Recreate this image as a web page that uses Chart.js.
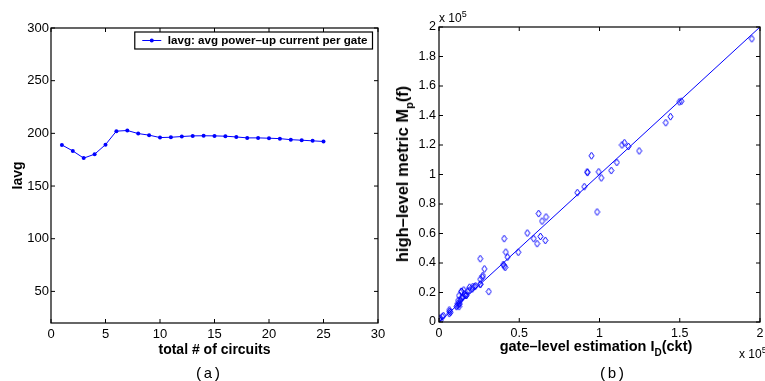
<!DOCTYPE html>
<html>
<head>
<meta charset="utf-8">
<script src="https://cdn.jsdelivr.net/npm/chart.js@4"></script>
<style>
  html, body { margin:0; padding:0; background:#fff; }
  #wrap { position:relative; width:765px; height:381px; overflow:hidden; font-family:"Liberation Sans", Arial, sans-serif; color:#000; }
  #wrap canvas { position:absolute; top:0; }
  .lbl { position:absolute; white-space:nowrap; transform:translate(-50%,-50%); }
  .cap { font-family:"Liberation Mono", "Courier New", monospace; font-size:15px; }
  .ttl { font-weight:bold; font-size:14.5px; }
  .ttl sub { font-size:10px; vertical-align:-5px; }
  .ttl.big { font-size:16.5px; }
  .ttl.big sub { font-size:11px; }
  .exp { position:absolute; white-space:nowrap; font-size:12px; }
  .exp sup { font-size:9px; vertical-align:5px; }
</style>
</head>
<body>
<div id="wrap">
  <canvas id="chartA" width="390" height="381" style="left:0"></canvas>
  <canvas id="chartB" width="385" height="381" style="left:380px"></canvas>
  <div class="lbl cap" style="left:208px;top:374px">(a)</div>
  <div class="lbl cap" style="left:612px;top:374px">(b)</div>
  <div class="lbl ttl big" style="left:404px;top:174px;transform:translate(-50%,-50%) rotate(-90deg)">high–level metric M<sub>p</sub>(f)</div>
  <div class="lbl ttl" style="left:596px;top:348px">gate–level estimation I<sub>D</sub>(ckt)</div>
  <div class="exp" style="left:439px;top:9px">x 10<sup>5</sup></div>
  <div class="exp" style="left:739px;top:345px">x 10<sup>5</sup></div>
</div>
<script>
/* ── (a) data ── */
const circuits = [1,2,3,4,5,6,7,8,9,10,11,12,13,14,15,16,17,18,19,20,21,22,23,24,25];
const iavg = [189,183.3,176.5,180.2,189.3,202.1,202.7,199.8,198.3,196,196.3,197,197.6,197.7,197.6,197.3,196.6,195.7,195.7,195.4,195,194,193.5,192.9,192.3];
const xTicksA = [0,5,10,15,20,25,30];
const yTicksA = [50,100,150,200,250,300];

/* ── (b) data (units of 10^5) ── */
const gateX = [0.002,0.01,0.02,0.027,0.006,0.064,0.072,0.064,0.066,0.109,0.125,0.113,0.125,0.118,0.128,
  0.133,0.119,0.139,0.15,0.145,0.16,0.125,0.166,0.171,0.139,0.154,0.14,0.178,0.187,0.19,0.207,0.222,0.211,0.228,
  0.257,0.258,0.257,0.27,0.273,0.283,0.257,0.31,0.406,0.416,0.406,0.412,0.4,0.427,0.494,
  0.55,0.59,0.611,0.632,0.662,0.621,0.642,0.667,0.862,0.905,0.985,
  0.923,0.925,0.95,0.995,1.011,1.073,1.108,1.14,1.155,1.18,1.247,1.413,1.442,1.497,1.51,1.949];
const metricY = [0.02,0.01,0.036,0.043,0.027,0.082,0.066,0.057,0.072,0.104,0.118,0.111,0.104,0.127,0.127,
  0.145,0.145,0.163,0.172,0.167,0.19,0.179,0.18,0.18,0.208,0.217,0.208,0.21,0.213,0.236,0.224,0.24,0.24,0.245,
  0.254,0.258,0.29,0.304,0.315,0.36,0.429,0.206,0.565,0.474,0.38,0.37,0.39,0.44,0.473,
  0.603,0.565,0.531,0.58,0.553,0.735,0.684,0.712,0.877,0.917,0.746,
  1.018,1.013,1.127,1.018,0.977,1.027,1.082,1.2,1.215,1.19,1.16,1.351,1.392,1.492,1.497,1.92];
const fitX = [0,2];
const fitY = [0,2];
const xTicksB = [0,0.5,1,1.5,2];
const yTicksB = [0,0.2,0.4,0.6,0.8,1,1.2,1.4,1.6,1.8,2];

const BLUE = '#0000ff';
const tickFont = size => ({ family: '"Liberation Sans", Arial, sans-serif', size });

/* ── box + inward ticks on all four sides ── */
const boxTicks = {
  id: 'boxTicks',
  afterDraw(chart){
    const { ctx, chartArea: a, scales: { x, y } } = chart;
    const L = 4;
    ctx.save();
    ctx.strokeStyle = '#000';
    ctx.lineWidth = 1.2;
    ctx.strokeRect(a.left, a.top, a.right - a.left, a.bottom - a.top);
    ctx.lineWidth = 1;
    ctx.beginPath();
    x.ticks.forEach(t => {
      const p = x.getPixelForValue(t.value);
      ctx.moveTo(p, a.bottom); ctx.lineTo(p, a.bottom - L);
      ctx.moveTo(p, a.top);    ctx.lineTo(p, a.top + L);
    });
    y.ticks.forEach(t => {
      const p = y.getPixelForValue(t.value);
      ctx.moveTo(a.left, p);  ctx.lineTo(a.left + L, p);
      ctx.moveTo(a.right, p); ctx.lineTo(a.right - L, p);
    });
    ctx.stroke();
    ctx.restore();
  }
};

/* ── MATLAB style boxed legend, top right inside plot ── */
const boxLegend = {
  id: 'boxLegend',
  afterDraw(chart){
    const { ctx, chartArea: a } = chart;
    const ds = chart.data.datasets[0];
    ctx.save();
    ctx.font = 'bold 11.6px "Liberation Sans", Arial, sans-serif';
    const tw = ctx.measureText(ds.label).width;
    const w = 33 + tw + 5, h = 17;
    const right = a.right - 5.5, top = a.top + 4;
    const left = right - w;
    ctx.fillStyle = '#fff';
    ctx.fillRect(left, top, w, h);
    ctx.strokeStyle = '#000';
    ctx.lineWidth = 1.2;
    ctx.strokeRect(left, top, w, h);
    const cy = top + h / 2;
    ctx.strokeStyle = BLUE; ctx.lineWidth = 1;
    ctx.beginPath(); ctx.moveTo(left + 7.5, cy); ctx.lineTo(left + 26.5, cy); ctx.stroke();
    ctx.fillStyle = BLUE;
    ctx.beginPath(); ctx.arc(left + 17, cy, 2, 0, Math.PI * 2); ctx.fill();
    ctx.fillStyle = '#000';
    ctx.textBaseline = 'middle';
    ctx.fillText(ds.label, left + 33, cy + 0.5);
    ctx.restore();
  }
};

function fixWidth(w){
  return s => { s.width = w; s.paddingTop = s.paddingBottom = s.paddingLeft = s.paddingRight = 0; };
}
function fixHeight(h){
  return s => { s.height = h; s.paddingTop = s.paddingBottom = s.paddingLeft = s.paddingRight = 0; };
}
function useTicks(list){
  return s => { s.ticks = list.map(v => ({ value: v })); };
}

/* ── (a) ── */
new Chart(document.getElementById('chartA'), {
  type: 'line',
  data: {
    datasets: [{
      label: 'Iavg: avg power–up current per gate',
      data: circuits.map((c, i) => ({ x: c, y: iavg[i] })),
      borderColor: BLUE, backgroundColor: BLUE, borderWidth: 1,
      pointRadius: 2, pointHoverRadius: 2, pointBorderWidth: 0, pointBackgroundColor: BLUE,
      tension: 0
    }]
  },
  options: {
    responsive: false, animation: false,
    layout: { padding: { top: 28, right: 12, bottom: 0, left: 0 } },
    plugins: { legend: { display: false }, tooltip: { enabled: false } },
    scales: {
      x: {
        type: 'linear', min: 0, max: 30,
        afterFit: fixHeight(58), afterBuildTicks: useTicks(xTicksA),
        grid: { display: false, drawTicks: false }, border: { display: false },
        ticks: { color: '#000', font: tickFont(13), padding: 4, maxRotation: 0 },
        title: { display: true, text: 'total # of circuits', color: '#000',
                 font: { family: '"Liberation Sans", Arial, sans-serif', size: 14, weight: 'bold' },
                 padding: { top: 0, bottom: 22 } }
      },
      y: {
        min: 20, max: 300,
        afterFit: fixWidth(51), afterBuildTicks: useTicks(yTicksA),
        grid: { display: false, drawTicks: false }, border: { display: false },
        ticks: { color: '#000', font: tickFont(13), padding: 2 },
        title: { display: true, text: 'Iavg', color: '#000',
                 font: { family: '"Liberation Sans", Arial, sans-serif', size: 14, weight: 'bold' },
                 padding: { top: 10, bottom: 0 } }
      }
    }
  },
  plugins: [boxTicks, boxLegend]
});

/* ── (b) ── */
const diamond = document.createElement('canvas');
diamond.width = 7; diamond.height = 9;
(() => {
  const c = diamond.getContext('2d');
  c.strokeStyle = BLUE; c.lineWidth = 1;
  c.beginPath();
  c.moveTo(3.5, 1); c.lineTo(6, 4.5); c.lineTo(3.5, 8); c.lineTo(1, 4.5); c.closePath();
  c.stroke();
})();

new Chart(document.getElementById('chartB'), {
  type: 'scatter',
  data: {
    datasets: [{
      label: 'circuits',
      data: gateX.map((g, i) => ({ x: g, y: metricY[i] })),
      pointStyle: diamond, pointRadius: 4, pointHoverRadius: 4,
      borderColor: BLUE, backgroundColor: BLUE
    }, {
      type: 'line',
      label: 'fit',
      data: fitX.map((g, i) => ({ x: g, y: fitY[i] })),
      borderColor: BLUE, borderWidth: 1, pointRadius: 0, tension: 0
    }]
  },
  options: {
    responsive: false, animation: false,
    layout: { padding: { top: 27, right: 2, bottom: 0, left: 0 } },
    plugins: { legend: { display: false }, tooltip: { enabled: false } },
    scales: {
      x: {
        type: 'linear', min: 0, max: 2,
        afterFit: fixHeight(59), afterBuildTicks: useTicks(xTicksB),
        grid: { display: false, drawTicks: false }, border: { display: false },
        ticks: { color: '#000', font: tickFont(12.5), padding: 4, maxRotation: 0, callback: v => String(v) }
      },
      y: {
        min: 0, max: 2,
        afterFit: fixWidth(59), afterBuildTicks: useTicks(yTicksB),
        grid: { display: false, drawTicks: false }, border: { display: false },
        ticks: { color: '#000', font: tickFont(12.5), padding: 3, callback: v => String(v) }
      }
    }
  },
  plugins: [boxTicks]
});
</script>
</body>
</html>
